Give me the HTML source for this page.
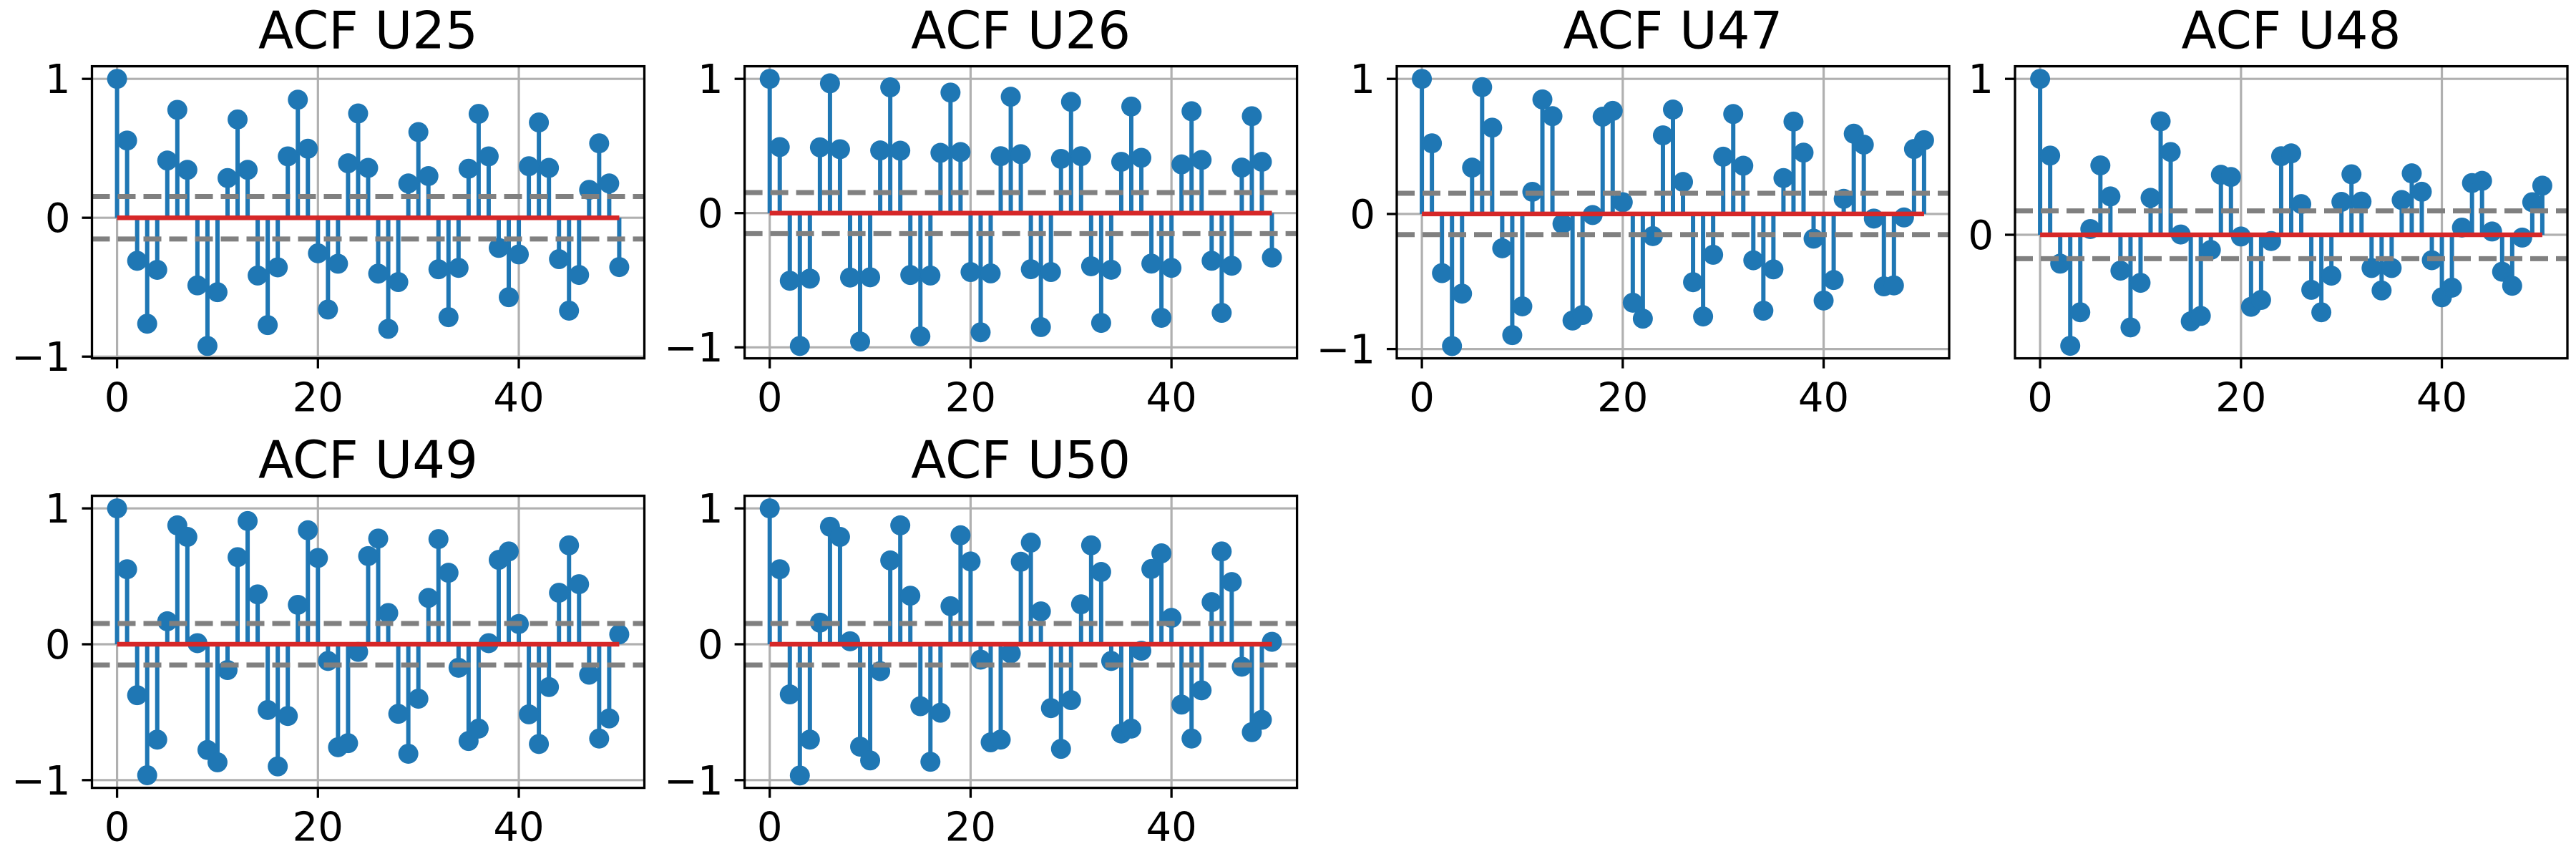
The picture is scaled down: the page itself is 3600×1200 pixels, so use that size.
<!DOCTYPE html>
<html><head><meta charset="utf-8">
<style>
html,body{margin:0;padding:0;background:#fff;}
svg{display:block;font-family:"DejaVu Sans","Liberation Sans",sans-serif;}
</style></head>
<body>
<svg id="fig" width="3600" height="1200" viewBox="0 0 3600 1200" xmlns="http://www.w3.org/2000/svg">
<rect x="0" y="0" width="3600" height="1200" fill="#fff"/>
</svg>
<script>
const titles = ["ACF U25","ACF U26","ACF U47","ACF U48","ACF U49","ACF U50"];
const xTicks = [0, 20, 40];
const yTicksFull = [-1, 0, 1];
const yTicksU48 = [0, 1];
const confBand = 0.153;
const acfU25 = [1.0,0.556,-0.31,-0.763,-0.375,0.412,0.777,0.345,-0.487,-0.923,-0.536,0.286,0.708,0.345,-0.416,-0.773,-0.357,0.442,0.85,0.497,-0.256,-0.661,-0.331,0.392,0.751,0.359,-0.402,-0.8,-0.463,0.247,0.617,0.3,-0.371,-0.716,-0.361,0.353,0.748,0.442,-0.217,-0.572,-0.264,0.371,0.686,0.359,-0.298,-0.669,-0.412,0.201,0.536,0.247,-0.355];
const acfU26 = [1.0,0.492,-0.504,-0.99,-0.488,0.49,0.967,0.476,-0.48,-0.957,-0.478,0.467,0.937,0.465,-0.461,-0.918,-0.465,0.449,0.898,0.455,-0.439,-0.888,-0.449,0.424,0.867,0.439,-0.418,-0.849,-0.439,0.404,0.829,0.424,-0.396,-0.818,-0.422,0.382,0.794,0.412,-0.376,-0.78,-0.408,0.363,0.759,0.396,-0.355,-0.743,-0.392,0.339,0.722,0.382,-0.331];
const acfU47 = [1.0,0.523,-0.438,-0.978,-0.59,0.343,0.939,0.639,-0.254,-0.897,-0.684,0.164,0.848,0.724,-0.073,-0.789,-0.748,-0.008,0.72,0.763,0.087,-0.657,-0.775,-0.164,0.582,0.773,0.237,-0.505,-0.759,-0.302,0.424,0.74,0.357,-0.343,-0.716,-0.41,0.266,0.684,0.454,-0.183,-0.641,-0.489,0.112,0.594,0.513,-0.034,-0.536,-0.529,-0.026,0.481,0.546];
const acfU48 = [1.0,0.508,-0.185,-0.712,-0.497,0.037,0.445,0.246,-0.23,-0.594,-0.308,0.237,0.728,0.531,0.002,-0.555,-0.52,-0.097,0.385,0.371,-0.011,-0.462,-0.418,-0.04,0.504,0.522,0.197,-0.353,-0.497,-0.262,0.211,0.388,0.213,-0.213,-0.357,-0.213,0.223,0.394,0.276,-0.163,-0.401,-0.339,0.046,0.332,0.346,0.021,-0.237,-0.327,-0.018,0.209,0.315];
const acfU49 = [1.0,0.552,-0.375,-0.964,-0.702,0.169,0.875,0.79,0.008,-0.778,-0.869,-0.19,0.641,0.907,0.367,-0.484,-0.899,-0.528,0.29,0.839,0.635,-0.123,-0.758,-0.728,-0.056,0.649,0.778,0.23,-0.512,-0.806,-0.401,0.341,0.774,0.526,-0.173,-0.712,-0.621,0.008,0.621,0.683,0.149,-0.516,-0.734,-0.315,0.379,0.728,0.442,-0.224,-0.694,-0.546,0.073];
const acfU50 = [1.0,0.552,-0.369,-0.966,-0.702,0.159,0.865,0.79,0.022,-0.754,-0.855,-0.198,0.617,0.875,0.357,-0.456,-0.865,-0.504,0.28,0.802,0.609,-0.113,-0.722,-0.702,-0.067,0.607,0.748,0.242,-0.47,-0.77,-0.411,0.294,0.728,0.532,-0.123,-0.657,-0.621,-0.048,0.554,0.669,0.194,-0.444,-0.694,-0.339,0.31,0.683,0.458,-0.165,-0.647,-0.556,0.018];

const seriesList = [acfU25, acfU26, acfU47, acfU48, acfU49, acfU50];
const yTickSets = [yTicksFull, yTicksFull, yTicksFull, yTicksU48, yTicksFull, yTicksFull];
// layout (pixel geometry of each axes box)
const layout = [
  {l:128.5, r:900.5, t:92.6, b:500.6, y0:304.2, y1:110.2},
  {l:1040.6, r:1812.6, t:92.6, b:500.6, y0:297.7, y1:110.2},
  {l:1952, r:2724, t:92.6, b:500.6, y0:298.9, y1:110.2},
  {l:2816, r:3588, t:92.6, b:500.6, y0:328, y1:110.2},
  {l:128.5, r:900.5, t:692.6, b:1100.6, y0:900, y1:710.2},
  {l:1040.6, r:1812.6, t:692.6, b:1100.6, y0:900, y1:710.2}
];
const NS = "http://www.w3.org/2000/svg";
const fig = document.getElementById('fig');
function mk(tag, attrs, parent){ const e=document.createElementNS(NS,tag); for(const k in attrs) e.setAttribute(k,attrs[k]); (parent||fig).appendChild(e); return e; }

seriesList.forEach((vals, p) => {
  const L = layout[p];
  const g = mk('g', {});
  
  
  const xMin = -2.5, xMax = 52.5;
  const xs = v => L.l + (v - xMin) / (xMax - xMin) * (L.r - L.l);
  const ys = v => L.y0 - v * (L.y0 - L.y1);
  // clip
  const cid = 'clip' + p;
  const cp = mk('clipPath', {id: cid}, g);
  mk('rect', {x:L.l, y:L.t, width:L.r-L.l, height:L.b-L.t}, cp);
  // grid
  const grid = mk('g', {stroke:'#b0b0b0', 'stroke-width':3.2}, g);
  
  
  xTicks.forEach(t => mk('line', {x1:xs(t), x2:xs(t), y1:L.t, y2:L.b}, grid));
  yTickSets[p].forEach(t => mk('line', {x1:L.l, x2:L.r, y1:ys(t), y2:ys(t)}, grid));
  const plot = mk('g', {'clip-path':'url(#'+cid+')'}, g);
  // stems
  vals.forEach((v, i) => {
    const s = mk('line', {x1:xs(i), x2:xs(i), y1:ys(0), y2:ys(v), stroke:'#1f77b4', 'stroke-width':6}, plot);
    
    
  });
  vals.forEach((v, i) => {
    const c = mk('circle', {cx:xs(i), cy:ys(v), r:14, fill:'#1f77b4'}, plot);
    
    
  });
  const base = mk('line', {x1:xs(0), x2:xs(vals.length-1), y1:ys(0), y2:ys(0), stroke:'#d62728', 'stroke-width':6.5}, plot);
  
  
  [confBand, -confBand].forEach((c, k) => {
    const d = mk('line', {x1:L.l, x2:L.r, y1:ys(c), y2:ys(c), stroke:'#808080', 'stroke-width':7, 'stroke-dasharray':'25 11'}, plot);
    
    
  });
  // spine
  const sp = mk('rect', {x:L.l, y:L.t, width:L.r-L.l, height:L.b-L.t, fill:'none', stroke:'#000', 'stroke-width':3.3}, g);
  
  
  // ticks
  xTicks.forEach(t => {
    mk('line', {x1:xs(t), x2:xs(t), y1:L.b, y2:L.b+14, stroke:'#000', 'stroke-width':3.3}, g);
    const tx = mk('text', {x:xs(t), y:L.b+74, 'font-size':56, 'text-anchor':'middle', fill:'#000'}, g);
    tx.textContent = String(t);
    
    
  });
  yTickSets[p].forEach(t => {
    mk('line', {x1:L.l-14, x2:L.l, y1:ys(t), y2:ys(t), stroke:'#000', 'stroke-width':3.3}, g);
    const ty = mk('text', {x:L.l-30, y:ys(t)+20, 'font-size':56, 'text-anchor':'end', fill:'#000'}, g);
    ty.textContent = t < 0 ? '\u2212' + Math.abs(t) : String(t);
    
    
  });
  const tt = mk('text', {x:(L.l+L.r)/2, y:L.t-25, 'font-size':72, 'text-anchor':'middle', fill:'#000'}, g);
  tt.textContent = titles[p];
  
  
});
</script>
</body></html>
